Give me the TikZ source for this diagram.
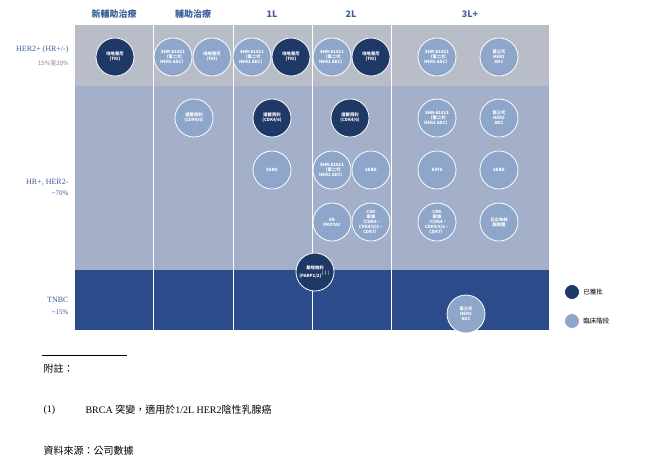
\documentclass[tikz,border=0pt]{standalone}
\usepackage{fontspec}
\setmainfont{Liberation Serif}
\newfontfamily\cjk{Noto Sans CJK TC}
\definecolor{bandher}{HTML}{B9BDC7}
\definecolor{bandhr}{HTML}{A4B0CA}
\definecolor{bandtn}{HTML}{2C4B8B}
\definecolor{drugdark}{HTML}{1F3966}
\definecolor{druglight}{HTML}{8DA6CA}
\definecolor{labblue}{HTML}{3A5F9A}
\tikzset{
  approved/.style={circle, fill=drugdark, draw=white, line width=0.8pt, minimum size=38pt, inner sep=0pt, text=white, align=center, font=\cjk\fontsize{4.3}{5}\selectfont\bfseries},
  trial/.style={approved, fill=druglight},
  colhead/.style={font=\cjk\fontsize{9}{10}\selectfont\bfseries, text=labblue},
}
\begin{document}
\begin{tikzpicture}[x=1pt,y=-1pt]
\useasboundingbox (0,0) rectangle (660,459);
% bands
\fill [bandher] (75,25) rectangle (549,86);
\fill [bandhr] (75,86) rectangle (549,270);
\fill [bandtn] (75,270) rectangle (549,330);
\foreach \x in {153,233,312,391}
  \draw [white, line width=0.8pt] (\x,25) -- (\x,330);
% column heads
\node [colhead] (h1) at (114,14) {新輔助治療};
\node [colhead] (h2) at (193,14) {輔助治療};
\node [colhead] (h3) at (272,14) {1L};
\node [colhead] (h4) at (351,14) {2L};
\node [colhead] (h5) at (470,14) {3L+};
% row labels
\node [anchor=east, font=\fontsize{8}{9}\selectfont, text=labblue] (r1) at (72,50) {HER2+ (HR+/-)};
\node [anchor=east, font=\cjk\fontsize{6}{7}\selectfont, text=gray] (r1b) at (72,63) {15\%至20\%};
\node [anchor=east, font=\fontsize{8}{9}\selectfont, text=labblue] (r2) at (72,182) {HR+, HER2-};
\node [anchor=east, font=\fontsize{7}{8}\selectfont, text=labblue] (r2b) at (72,193) {\textasciitilde70\%};
\node [anchor=east, font=\fontsize{8}{9}\selectfont, text=labblue] (r3) at (72,300) {TNBC};
\node [anchor=east, font=\fontsize{7}{8}\selectfont, text=labblue] (r3b) at (72,312) {\textasciitilde15\%};
% HER2+ row
\node [approved] (p1) at (115,57) {吡咯替尼\\(TKI)};
\node [trial] (s1) at (173,57) {SHR-A1811\\（第二代\\HER2 ADC）};
\node [trial] (p2) at (212,57) {吡咯替尼\\(TKI)};
\node [trial] (s2) at (252,57) {SHR-A1811\\（第二代\\HER2 ADC）};
\node [approved] (p3) at (291,57) {吡咯替尼\\(TKI)};
\node [trial] (s3) at (332,57) {SHR-A1811\\（第二代\\HER2 ADC）};
\node [approved] (p4) at (371,57) {吡咯替尼\\(TKI)};
\node [trial] (s4) at (437,57) {SHR-A1811\\（第二代\\HER2 ADC）};
\node [trial] (t1) at (499,57) {第三代\\HER2\\ADC};
% HR+ rows
\node [trial] (d1) at (194,118) {達爾西利\\(CDK4/6)};
\node [approved] (d2) at (272,118) {達爾西利\\(CDK4/6)};
\node [approved] (d3) at (350,118) {達爾西利\\(CDK4/6)};
\node [trial] (s5) at (437,118) {SHR-A1811\\（第二代\\HER2 ADC）};
\node [trial] (t2) at (499,118) {第三代\\HER2\\ADC};
\node [trial] (e1) at (272,170) {SERD};
\node [trial] (s6) at (332,170) {SHR-A1811\\（第二代\\HER2 ADC）};
\node [trial] (e2) at (371,170) {SERD};
\node [trial] (k1) at (437,170) {KAT6};
\node [trial] (e3) at (499,170) {SERD};
\node [trial] (er) at (332,222) {ER\\PROTAC};
\node [trial] (c1) at (371,222) {CDK\\家族\\（CDK4、\\CDK4/6/2、\\CDK7）};
\node [trial] (c2) at (437,222) {CDK\\家族\\（CDK4、\\CDK4/6/2、\\CDK7）};
\node [trial] (ab) at (499,222) {艾立布林\\脂質體};
% TNBC row
\node [approved] (fz) at (315,272) {氟唑帕利\\(PARP1/2)$^{(1)}$};
\node [trial] (t3) at (466,314) {第三代\\HER2\\ADC};
% legend
\node [approved, minimum size=15pt] (ld) at (572,292) {};
\node [trial, minimum size=15pt] (ll) at (572,321) {};
\node [anchor=west, font=\cjk\fontsize{6.5}{7}\selectfont] (ldt) at (ld.east) {已獲批};
\node [anchor=west, font=\cjk\fontsize{6.5}{7}\selectfont] (llt) at (ll.east) {臨床階段};
% footnotes
\draw [black, line width=0.4pt] (42,355) -- (127,355);
\node [anchor=west, font=\cjk\fontsize{10}{11}\selectfont\itshape] (fn) at (40,369) {附註：};
\node [anchor=west, font=\fontsize{10}{11}\selectfont] (fn1) at (40,410) {(1)};
\node [anchor=west, font=\fontsize{10}{11}\selectfont] (fn1t) at (82,410) {BRCA {\cjk 突變，適用於}1/2L HER2{\cjk 陰性乳腺癌}};
\node [anchor=west, font=\cjk\fontsize{10}{11}\selectfont\itshape] (src) at (40,451) {資料來源：公司數據};
\end{tikzpicture}
\end{document}
